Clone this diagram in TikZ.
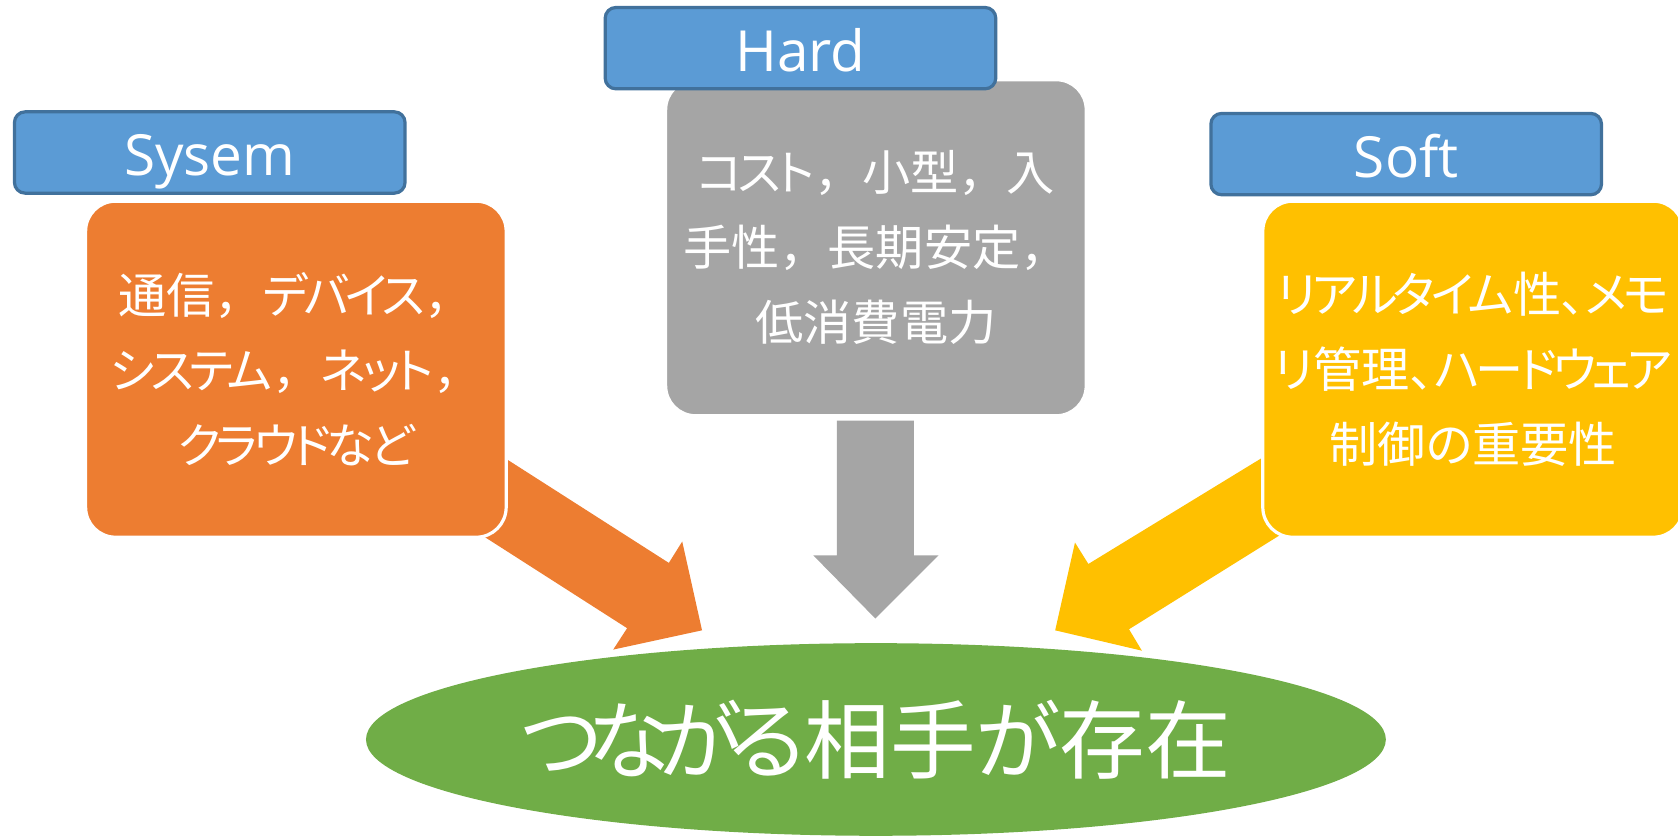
\documentclass[tikz,border=0pt]{standalone}
\usepackage{fontspec}
\setmainfont{Noto Sans CJK JP}[RawFeature={+palt}]
\newfontfamily\fwfont{Noto Sans CJK JP}
\newfontfamily\kn{Noto Sans CJK JP}[RawFeature={+palt},LetterSpace=-9]
\newfontfamily\knbig{Noto Sans CJK JP}[RawFeature={+palt},LetterSpace=-16]
\newfontfamily\latinfont{Open Sans}
\usetikzlibrary{shapes.geometric}
\definecolor{hdrblue}{HTML}{5B9BD5}
\definecolor{hdredge}{HTML}{41719C}
\definecolor{sysorange}{HTML}{ED7D31}
\definecolor{hwgray}{HTML}{A5A5A5}
\definecolor{swyellow}{HTML}{FFC000}
\definecolor{goalgreen}{HTML}{70AD47}
\newcommand\fwc{{\fwfont ，}}
\begin{document}
\begin{tikzpicture}[x=0.5pt,y=-0.5pt,
  header/.style={draw=hdredge, line width=1.5pt, fill=hdrblue, rounded corners=5pt,
    minimum width=182.5pt, minimum height=38pt, inner sep=0pt, text=white,
    font=\latinfont\fontsize{26.5}{30}\selectfont, text height=21.5pt, text depth=0pt},
  card/.style={draw=white, line width=1.5pt, rounded corners=14pt,
    minimum width=196.5pt, minimum height=157pt, inner sep=0pt, text=white,
    align=center, font=\fontsize{22.5}{35}\selectfont},
  goal/.style={ellipse, fill=goalgreen, minimum width=476.5pt, minimum height=90pt,
    inner sep=0pt},
  goaltext/.style={text=white, inner sep=0pt, font=\fontsize{40}{48}\selectfont}
]
\useasboundingbox (0,0) rectangle (1568,781);
% block arrows
\fill[sysorange] (404.5,385) -- (625,526) -- (637.5,506) -- (656,589) -- (573,607)
  -- (586,587) -- (384.5,458) -- cycle;
\fill[hwgray] (782,393) -- (854,393) -- (854,519) -- (877,519) -- (818,578)
  -- (760,519) -- (782,519) -- cycle;
\fill[swyellow] (1256,381) -- (1017,527) -- (1004.5,507) -- (986,589) -- (1067,608)
  -- (1055,588) -- (1273,452) -- cycle;
% cards
\node[card, fill=sysorange] (sys) at (276.5,345)
  {通信\fwc{\kn デバイス}\fwc\\{\kn システム}\fwc{\kn ネット}\fwc\\{\kn クラウドなど}};
\node[card, fill=hwgray] (hw) at (818.5,231.5)
  {{\kn コスト}\fwc 小型\fwc 入\\手性\fwc 長期安定\fwc\\低消費電力};
\node[card, fill=swyellow] (sw) at (1376.5,345)
  {{\kn リアルタイム}性、{\kn メモ}\\{\kn リ}管理、{\kn ハードウェア}\\制御の重要性};
% headers
\node[header] (syshdr) at (196,142.5) {Sysem};
\node[header] (hwhdr) at (748,45) {Hard};
\node[header] (swhdr) at (1314,144) {Soft};
% goal
\node[goal] (target) at (818.5,691) {};
\node[goaltext] (targettext) at (target.center) {{\knbig つながる}相手{\knbig が}存在};
\end{tikzpicture}
\end{document}
